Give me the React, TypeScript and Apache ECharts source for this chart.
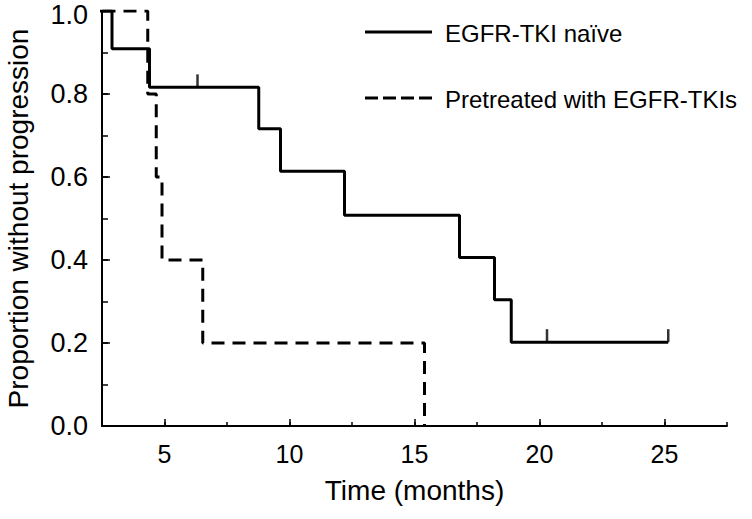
import React, { useEffect, useRef } from "react";
import * as echarts from "echarts";

const seriesNames = ["EGFR-TKI naïve", "Pretreated with EGFR-TKIs"];
// Kaplan–Meier steps: [time (months), proportion after event]
const naiveSteps: [number, number][] = [
  [0, 1.0], [2.9, 0.909], [4.4, 0.816], [8.77, 0.716], [9.64, 0.614],
  [12.2, 0.508], [16.8, 0.406], [18.2, 0.304], [18.87, 0.202], [25.15, 0.202],
];
const naiveCensored: [number, number][] = [
  [6.32, 0.816], [20.3, 0.202], [25.15, 0.202],
];
const pretreatedSteps: [number, number][] = [
  [0, 1.0], [4.33, 0.8], [4.67, 0.6], [4.9, 0.4], [6.53, 0.2], [15.4, 0.0],
];
const xMajorTicks = [5, 10, 15, 20, 25];
const yLabelTicks = [0, 0.2, 0.4, 0.6, 0.8, 1.0];

const FONT = "'Liberation Sans', Arial, Helvetica, sans-serif";
const DASH = [13, 8];

export default function App() {
  const ref = useRef<HTMLDivElement>(null);
  useEffect(() => {
    document.body.style.margin = "0";
    if (!ref.current) return;
    const chart = echarts.init(ref.current, null, { renderer: "svg" });
    const axisLine = { show: true, lineStyle: { color: "#000", width: 2 } };
    chart.setOption({
      animation: false,
      backgroundColor: "#fff",
      textStyle: { fontFamily: FONT, color: "#000" },
      grid: {
        left: 102,
        top: 11,
        right: 25,
        bottom: 93,
        containLabel: false,
        outerBoundsMode: "none",
      },
      graphic: [
        {
          type: "line",
          shape: { x1: 365, y1: 32, x2: 432, y2: 32 },
          style: { stroke: "#000", lineWidth: 3 },
        },
        {
          type: "text",
          x: 445,
          y: 33,
          style: {
            text: seriesNames[0],
            fontSize: 24,
            fontFamily: FONT,
            fill: "#000",
            verticalAlign: "middle",
          },
        },
        {
          type: "line",
          shape: { x1: 365, y1: 98, x2: 436, y2: 98 },
          style: { stroke: "#000", lineWidth: 3, lineDash: [13, 5] },
        },
        {
          type: "text",
          x: 445,
          y: 99,
          style: {
            text: seriesNames[1],
            fontSize: 24,
            fontFamily: FONT,
            fill: "#000",
            verticalAlign: "middle",
          },
        },
      ],
      xAxis: [
        {
          type: "value",
          min: 2.5,
          max: 27.5,
          interval: 2.5,
          name: "Time (months)",
          nameLocation: "middle",
          nameGap: 50,
          nameTextStyle: { fontSize: 28, color: "#000", fontFamily: FONT },
          axisLine,
          splitLine: { show: false },
          axisTick: { show: true, inside: true, length: 4, lineStyle: { color: "#000", width: 1.5 } },
          axisLabel: {
            customValues: xMajorTicks,
            fontSize: 25,
            color: "#000",
            margin: 15,
            fontFamily: FONT,
          },
        },
        {
          type: "value",
          min: 2.5,
          max: 27.5,
          interval: 2.5,
          position: "bottom",
          axisLine: { show: false },
          splitLine: { show: false },
          axisLabel: { show: false },
          axisTick: {
            show: true,
            inside: true,
            length: 7,
            customValues: xMajorTicks,
            lineStyle: { color: "#000", width: 1.5 },
          },
        },
      ],
      yAxis: [
        {
          type: "value",
          min: 0,
          max: 1,
          interval: 0.1,
          name: "Proportion without progression",
          nameLocation: "middle",
          nameGap: 70,
          nameTextStyle: { fontSize: 28, color: "#000", fontFamily: FONT },
          axisLine,
          splitLine: { show: false },
          axisTick: { show: true, inside: true, length: 6, lineStyle: { color: "#000", width: 1.5 } },
          axisLabel: {
            customValues: yLabelTicks,
            formatter: (v: number) => (v >= 0.999 ? "{t|" + v.toFixed(1) + "}" : v.toFixed(1)),
            rich: { t: { fontSize: 27, fontFamily: FONT, color: "#000", padding: [7, 0, 0, 0] } },
            fontSize: 27,
            color: "#000",
            margin: 14,
            fontFamily: FONT,
          },
        },
        {
          type: "value",
          min: 0,
          max: 1,
          interval: 0.1,
          position: "left",
          axisLine: { show: false },
          splitLine: { show: false },
          axisLabel: { show: false },
          axisTick: {
            show: true,
            inside: true,
            length: 8,
            customValues: yLabelTicks,
            lineStyle: { color: "#000", width: 1.5 },
          },
        },
      ],
      series: [
        {
          name: seriesNames[0],
          type: "line",
          step: "end",
          data: naiveSteps,
          symbol: "none",
          clip: true,
          lineStyle: { color: "#000", width: 3, type: "solid" },
          itemStyle: { color: "#000" },
        },
        {
          name: seriesNames[1],
          type: "line",
          step: "end",
          data: pretreatedSteps,
          symbol: "none",
          clip: true,
          lineStyle: { color: "#000", width: 3, type: DASH },
          itemStyle: { color: "#000" },
        },
        {
          name: "censored",
          type: "scatter",
          data: naiveCensored,
          symbol: "rect",
          symbolSize: [2.5, 13],
          symbolOffset: [0, -6.5],
          itemStyle: { color: "#000" },
          silent: true,
        },
      ],
    });
    return () => chart.dispose();
  }, []);
  return <div ref={ref} style={{ width: 752, height: 519 }} />;
}
